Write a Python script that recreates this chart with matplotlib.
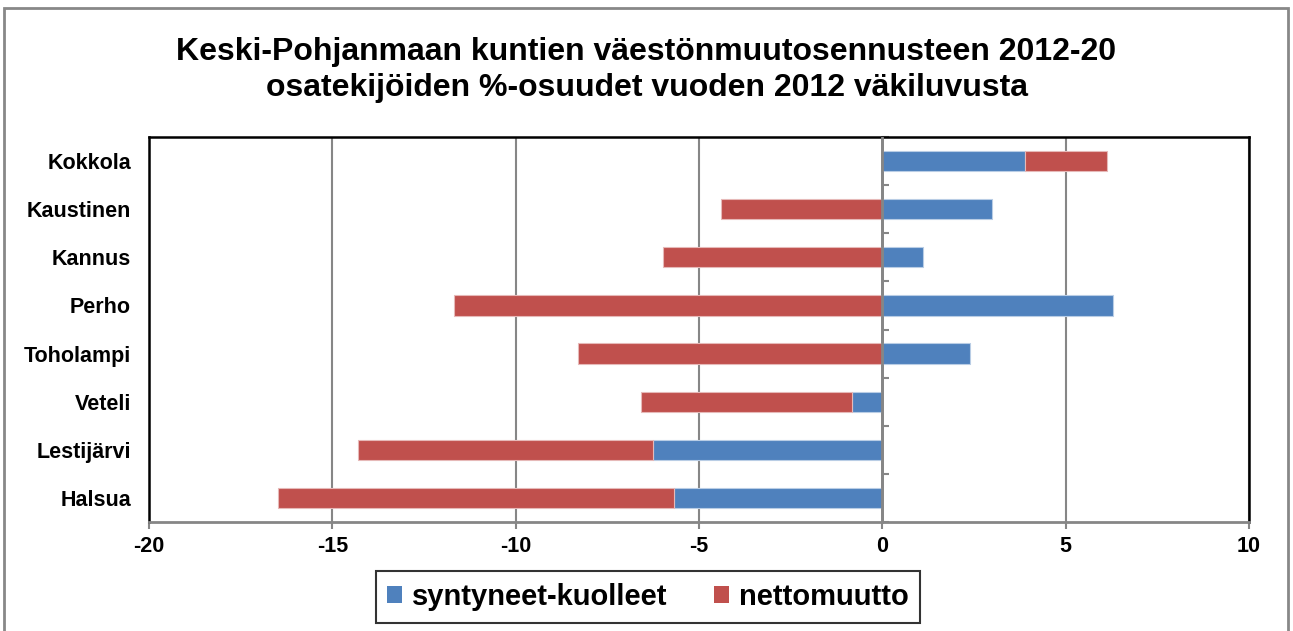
import numpy as np
import matplotlib
matplotlib.use("Agg")
import matplotlib.pyplot as plt
from matplotlib.patches import Rectangle

categories = ["Kokkola", "Kaustinen", "Kannus", "Perho", "Toholampi", "Veteli", "Lestijärvi", "Halsua"]
syntyneet_kuolleet = [3.88, 2.98, 1.10, 6.29, 2.38, -0.83, -6.25, -5.68]
nettomuutto = [2.25, -4.39, -5.99, -11.68, -8.29, -5.76, -8.06, -10.80]
series_names = ["syntyneet-kuolleet", "nettomuutto"]
xticks = [-20, -15, -10, -5, 0, 5, 10]
title = "Keski-Pohjanmaan kuntien väestönmuutosennusteen 2012-20\nosatekijöiden %-osuudet vuoden 2012 väkiluvusta"

plt.rcParams['font.family'] = ['Liberation Sans', 'DejaVu Sans']
plt.rcParams['font.weight'] = 'bold'

W, H = 1293, 631
fig = plt.figure(figsize=(W / 100, H / 100), dpi=100)
ax = fig.add_axes([149 / W, 1 - 522 / H, (1249 - 149) / W, (522 - 137) / H])

y = np.arange(len(categories))
s = np.array(syntyneet_kuolleet)
n = np.array(nettomuutto)
left_n = np.where(np.sign(s) == np.sign(n), s, 0.0)

blue = "#4F81BD"
red = "#C0504D"
grey = "#868686"
h = 0.42
ax.barh(y, s, height=h, color=blue, edgecolor="#b9cde5", linewidth=0.8, zorder=3, label=series_names[0])
ax.barh(y, n, left=left_n, height=h, color=red, edgecolor="#e6b9b8", linewidth=0.8, zorder=3, label=series_names[1])
ax.axvline(0, color=grey, linewidth=2, zorder=4)

ax.set_xlim(-20, 10)
ax.set_ylim(len(categories) - 0.5, -0.5)
ax.set_xticks(xticks)
ax.set_xticklabels([str(t) for t in xticks], fontsize=15.5, fontweight='bold')
ax.set_yticks(y)
ax.set_yticklabels(categories, fontsize=15.5, fontweight='bold')
ax.tick_params(axis='y', length=0, pad=13)
ax.tick_params(axis='x', length=5, width=1.5, color=grey, pad=5, direction='out')

for xv in xticks:
    if xv != 0:
        ax.axvline(xv, color=grey, linewidth=1.5, zorder=1)

for side in ['top', 'right', 'left']:
    ax.spines[side].set_color('black')
    ax.spines[side].set_linewidth(1.8)
ax.spines['bottom'].set_color(grey)
ax.spines['bottom'].set_linewidth(2)

sec = ax.secondary_yaxis(20 / 30)
for sp in sec.spines.values():
    sp.set_color(grey)
    sp.set_linewidth(2)
sec.set_yticks(np.arange(len(categories) + 1) - 0.5)
sec.set_yticklabels([])
sec.tick_params(axis='y', length=5, width=1.5, color=grey, direction='out')

fig.text(0.5, 1 - 70 / H, title, ha='center', va='center', fontsize=23,
         fontweight='bold', linespacing=1.28)

handles, labels = ax.get_legend_handles_labels()
leg = fig.legend(handles, labels, loc='center', bbox_to_anchor=(648 / W, 1 - 597 / H),
                 ncol=2, frameon=True, fancybox=False, edgecolor='black',
                 handlelength=0.5, handleheight=0.5, handletextpad=0.35, columnspacing=1.6,
                 borderpad=0.4, prop={'weight': 'bold', 'size': 21})
leg.get_frame().set_linewidth(1.5)
for p in leg.get_patches():
    p.set_edgecolor('none')

fig.patches.append(Rectangle((4 / W, -0.05), (1288 - 4) / W, 1.05 - 8 / H, transform=fig.transFigure,
                             fill=False, edgecolor='#888888', linewidth=2))

fig.savefig("out.png", dpi=100, facecolor='white')
